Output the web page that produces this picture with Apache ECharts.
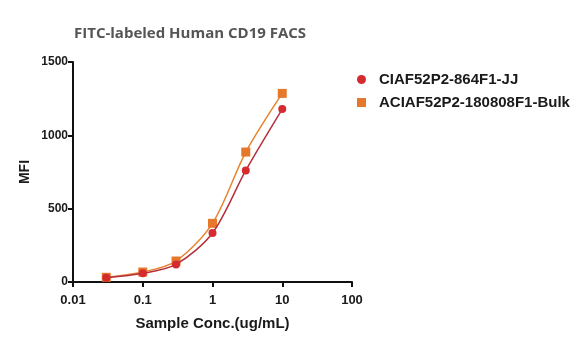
<!DOCTYPE html>
<html>
<head>
<meta charset="utf-8">
<script src="https://cdn.jsdelivr.net/npm/echarts@6/dist/echarts.min.js"></script>
<style>
  html, body { margin: 0; padding: 0; background: #fff; }
</style>
</head>
<body>
<div id="myChart" style="width:585px;height:351px;"></div>
<script>
// concentrations (ug/mL)
const conc = [0.03, 0.1, 0.3, 1, 3, 10];
const jjValues = [29, 59, 120, 334, 761, 1179];
const bulkValues = [32, 68, 143, 400, 886, 1286];
const seriesNames = ["CIAF52P2-864F1-JJ", "ACIAF52P2-180808F1-Bulk"];
const yTicks = [0, 500, 1000, 1500];

function pairs(xs, ys) {
  return xs.map((x, i) => [x, ys[i]]);
}

let myChart = echarts.init(document.getElementById("myChart"));
const axisFont = { fontFamily: "Liberation Sans", fontWeight: "bold", color: "#1a1a1a" };

myChart.setOption({
  backgroundColor: "#fff",
  animation: false,
  title: {
    text: "FITC-labeled Human CD19 FACS",
    left: 69,
    top: 21,
    textStyle: { fontFamily: "Open Sans", fontWeight: "bold", fontSize: 15, color: "#555" }
  },
  legend: {
    orient: "vertical",
    left: 352,
    top: 67,
    itemWidth: 9,
    itemHeight: 9,
    itemGap: 8,
    selectedMode: false,
    textStyle: { fontFamily: "Liberation Sans", fontWeight: "bold", fontSize: 15, color: "#1a1a1a", padding: [0, 0, 0, 8] },
    data: [
      { name: seriesNames[0], icon: "circle", itemStyle: { color: "#d42a30" } },
      { name: seriesNames[1], icon: "rect", itemStyle: { color: "#e6782c" } }
    ]
  },
  grid: { left: 73, right: 233, top: 62, bottom: 69, containLabel: false },
  xAxis: {
    type: "log",
    logBase: 10,
    min: 0.01,
    max: 100,
    name: "Sample Conc.(ug/mL)",
    nameLocation: "middle",
    nameGap: 34,
    nameTextStyle: Object.assign({ fontSize: 15 }, axisFont),
    axisLine: { lineStyle: { color: "#111", width: 2 } },
    axisTick: { show: true, length: 5, lineStyle: { color: "#111", width: 2 } },
    minorTick: { show: false },
    splitLine: { show: false },
    axisLabel: Object.assign({
      fontSize: 13,
      margin: 12,
      formatter: function (v) { return String(+v.toPrecision(3)); }
    }, axisFont)
  },
  yAxis: {
    type: "value",
    min: yTicks[0],
    max: yTicks[yTicks.length - 1],
    interval: 500,
    name: "MFI",
    nameLocation: "middle",
    nameGap: 41,
    nameTextStyle: Object.assign({ fontSize: 14 }, axisFont),
    axisLine: { show: true, lineStyle: { color: "#111", width: 2 } },
    axisTick: { show: true, length: 5, lineStyle: { color: "#111", width: 2 } },
    splitLine: { show: false },
    axisLabel: Object.assign({ fontSize: 12, margin: 5, formatter: function (v) { return String(v); } }, axisFont)
  },
  series: [
    {
      name: seriesNames[0],
      type: "line",
      smooth: 0.3,
      symbol: "circle",
      symbolSize: 8,
      data: pairs(conc, jjValues),
      itemStyle: { color: "#d42a30" },
      lineStyle: { color: "#b5303c", width: 1.5 },
      z: 3
    },
    {
      name: seriesNames[1],
      type: "line",
      smooth: 0.3,
      symbol: "rect",
      symbolSize: 9,
      data: pairs(conc, bulkValues),
      itemStyle: { color: "#e6782c" },
      lineStyle: { color: "#e8842e", width: 1.5 },
      z: 2
    }
  ]
});
</script>
</body>
</html>
